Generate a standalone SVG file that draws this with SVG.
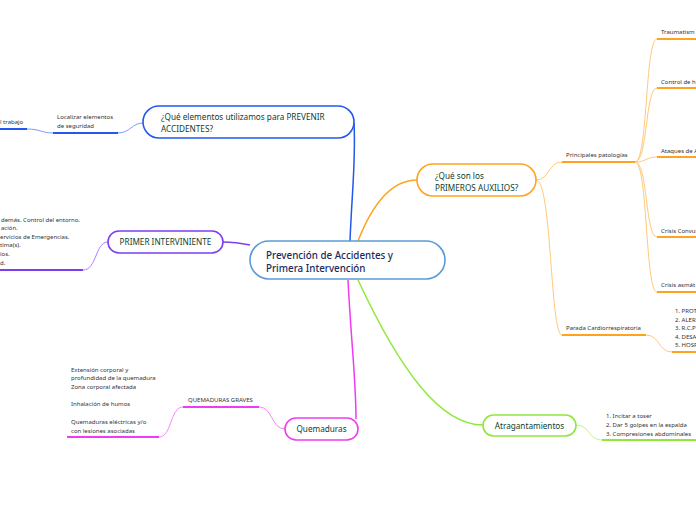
<svg xmlns="http://www.w3.org/2000/svg" width="696" height="520" viewBox="0 0 696 520">
<style>
text{font-family:"Noto Sans","Open Sans","DejaVu Sans",sans-serif;}
.sm{font-size:6px;fill:#333;}
.nd{font-size:8.2px;fill:#0f3d2e;}
.ctr{font-size:9.8px;fill:#1c2a5a;font-weight:500;}
.box{fill:#fff;stroke-width:1.6;}
.c{fill:none;stroke-width:1.5;}
.t{fill:none;stroke-width:1;}
.u{fill:none;stroke-width:2;}
</style>
<rect width="696" height="520" fill="#fff"/>
<g id="connectors">
  <!-- main branches -->
  <path class="c" stroke="#2457f0" d="M350,241 C352,190 356,160 354,123"/>
  <path class="c" stroke="#7b3ff0" d="M250,245 C240,243 234,242 223,242"/>
  <path class="c" stroke="#f03cf0" d="M348,280 C351,340 356,380 356,419"/>
  <path class="c" stroke="#ffa21e" d="M358,241 C374,200 394,180 417,180"/>
  <path class="c" stroke="#8fe83a" d="M358,280 C400,370 440,425 483,425"/>
  <!-- blue -->
  <path class="t" stroke="#7d9bff" d="M143,123 C132,123 130,133 118,133"/>
  <path class="u" stroke="#2457f0" d="M53,133 H118"/>
  <path class="t" stroke="#7d9bff" d="M53,133 C42,133 40,129 27,129"/>
  <path class="u" stroke="#2457f0" d="M0,129 H27"/>
  <!-- purple -->
  <path class="t" stroke="#a882ff" d="M108,242 C95,242 97,270 83,270"/>
  <path class="u" stroke="#7b3ff0" d="M0,270 H83"/>
  <!-- magenta -->
  <path class="t" stroke="#f58af5" d="M285,429 C271,429 273,407 259,407"/>
  <path class="u" stroke="#f03cf0" d="M183,407 H259"/>
  <path class="t" stroke="#f58af5" d="M183,407 C170,407 172,437 159,437"/>
  <path class="u" stroke="#f03cf0" d="M67,437 H159"/>
  <!-- orange -->
  <path class="t" stroke="#ffc97a" d="M536,180 C550,180 548,162 562,162"/>
  <path class="t" stroke="#ffc97a" d="M536,180 C552,180 550,335 562,335"/>
  <path class="u" stroke="#ffa21e" d="M562,162 H635"/>
  <path class="u" stroke="#ffa21e" d="M562,335 H646"/>
  <path class="t" stroke="#ffc97a" d="M635,162 C648,162 645,39 657,39"/>
  <path class="t" stroke="#ffc97a" d="M635,162 C648,162 645,88 657,88"/>
  <path class="t" stroke="#ffc97a" d="M635,162 C646,162 646,157 657,157"/>
  <path class="t" stroke="#ffc97a" d="M635,162 C648,162 645,237 657,237"/>
  <path class="t" stroke="#ffc97a" d="M635,162 C648,162 645,292 657,292"/>
  <path class="u" stroke="#ffa21e" d="M657,39 H696 M657,88 H696 M657,157 H696 M657,237 H696 M657,292 H696"/>
  <path class="t" stroke="#ffc97a" d="M646,335 C660,335 658,352 672,352"/>
  <path class="u" stroke="#ffa21e" d="M672,352 H696"/>
  <!-- green -->
  <path class="t" stroke="#c2f58e" d="M576,425 C590,425 588,440 602,440"/>
  <path class="u" stroke="#8fe83a" d="M602,440 H696"/>
</g>
<g id="center">
  <rect class="box" x="250" y="241" width="195" height="38" rx="19" stroke="#5b9bd5"/>
  <text class="ctr" x="266" y="259">Prevención de Accidentes y</text>
  <text class="ctr" x="266" y="272">Primera Intervención</text>
</g>
<g id="prevenir">
  <rect class="box" x="143" y="106" width="211" height="32" rx="16" stroke="#2457f0"/>
  <text class="nd" x="161" y="119.5">¿Qué elementos utilizamos para PREVENIR</text>
  <text class="nd" x="161" y="131.5">ACCIDENTES?</text>
</g>
<g id="localizar">
  <text class="sm" x="57" y="119">Localizar elementos</text>
  <text class="sm" x="57" y="127.5">de seguridad</text>
</g>
<g id="trabajo">
  <text class="sm" x="0" y="124">l trabajo</text>
</g>
<g id="primer">
  <rect class="box" x="108" y="231" width="115" height="22" rx="11" stroke="#7b3ff0"/>
  <text class="nd" x="165.5" y="245" text-anchor="middle">PRIMER INTERVINIENTE</text>
</g>
<g id="primer-list">
  <text class="sm" x="1" y="221.5">demás. Control del entorno.</text>
  <text class="sm" x="1" y="230">ación.</text>
  <text class="sm" x="0" y="238.5">ervicios de Emergencias.</text>
  <text class="sm" x="0" y="247">tima(s).</text>
  <text class="sm" x="0" y="255.5">ios.</text>
  <text class="sm" x="0" y="264.5">d.</text>
</g>
<g id="quemaduras">
  <rect class="box" x="285" y="418" width="73" height="22" rx="11" stroke="#f03cf0"/>
  <text class="nd" x="321.5" y="432" text-anchor="middle">Quemaduras</text>
</g>
<g id="graves">
  <text class="sm" x="188" y="401.5">QUEMADURAS GRAVES</text>
</g>
<g id="graves-list">
  <text class="sm" x="71" y="371.5">Extensión corporal y</text>
  <text class="sm" x="71" y="380">profundidad de la quemadura</text>
  <text class="sm" x="71" y="389">Zona corporal afectada</text>
  <text class="sm" x="71" y="405.5">Inhalación de humos</text>
  <text class="sm" x="71" y="423.5">Quemaduras eléctricas y/o</text>
  <text class="sm" x="71" y="432.5">con lesiones asociadas</text>
</g>
<g id="auxilios">
  <rect class="box" x="417" y="164" width="119" height="32" rx="16" stroke="#ffa21e"/>
  <text class="nd" x="435" y="178.5">¿Qué son los</text>
  <text class="nd" x="435" y="190.5">PRIMEROS AUXILIOS?</text>
</g>
<g id="patologias">
  <text class="sm" x="566" y="156.5">Principales patologías</text>
</g>
<g id="traumatismo"><text class="sm" x="661" y="34">Traumatism</text></g>
<g id="control"><text class="sm" x="661" y="84">Control de h</text></g>
<g id="ataques"><text class="sm" x="661" y="152.5">Ataques de A</text></g>
<g id="convulsivas"><text class="sm" x="661" y="232.5">Crisis Convul</text></g>
<g id="asmaticas"><text class="sm" x="661" y="287">Crisis asmát</text></g>
<g id="parada">
  <text class="sm" x="566" y="330">Parada Cardiorrespiratoria</text>
</g>
<g id="parada-list">
  <text class="sm" x="675" y="313">1. PROT</text>
  <text class="sm" x="675" y="321.5">2. ALER</text>
  <text class="sm" x="675" y="330">3. R.C.P</text>
  <text class="sm" x="675" y="338.5">4. DESA</text>
  <text class="sm" x="675" y="347">5. HOSP</text>
</g>
<g id="atragantamientos">
  <rect class="box" x="483" y="415" width="93" height="21" rx="10.5" stroke="#8fe83a"/>
  <text class="nd" x="529.5" y="428.5" text-anchor="middle">Atragantamientos</text>
</g>
<g id="atragantamientos-list">
  <text class="sm" x="606" y="418">1. Incitar a toser</text>
  <text class="sm" x="606" y="427">2. Dar 5 golpes en la espalda</text>
  <text class="sm" x="606" y="436">3. Compresiones abdominales</text>
</g>
</svg>
